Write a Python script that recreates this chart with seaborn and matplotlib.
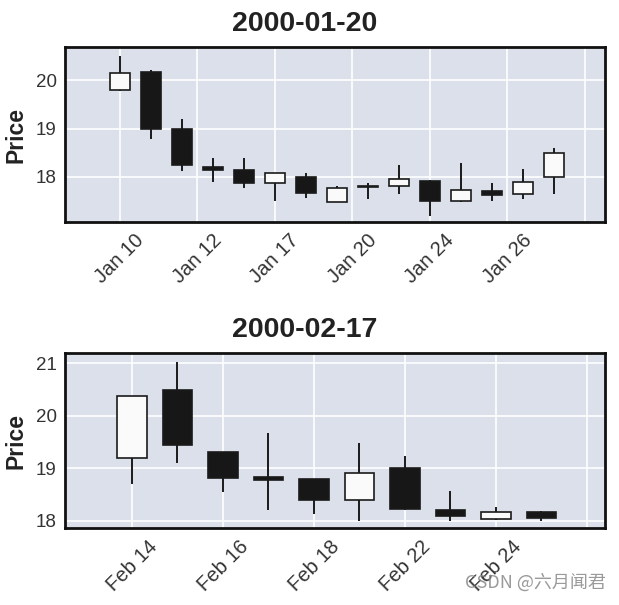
import matplotlib
matplotlib.use("Agg")
import matplotlib.pyplot as plt
import seaborn as sns
import numpy as np
import pandas as pd

# ---- data ----
jan_dates = ["Jan 10", "Jan 11", "Jan 12", "Jan 13", "Jan 14", "Jan 17", "Jan 18",
             "Jan 19", "Jan 20", "Jan 21", "Jan 24", "Jan 25", "Jan 26", "Jan 27", "Jan 28"]
jan_open  = [19.79, 20.17, 19.00, 18.20, 18.15, 17.88, 18.00, 17.49, 17.82, 17.81, 17.92, 17.50, 17.71, 17.65, 17.99]
jan_high  = [20.50, 20.21, 19.20, 18.40, 18.38, 18.09, 18.07, 17.81, 17.87, 18.24, 17.93, 18.29, 17.87, 18.17, 18.59]
jan_low   = [19.78, 18.79, 18.12, 17.89, 17.76, 17.50, 17.57, 17.49, 17.55, 17.65, 17.19, 17.49, 17.50, 17.55, 17.65]
jan_close = [20.14, 18.99, 18.24, 18.15, 17.88, 18.08, 17.67, 17.77, 17.80, 17.96, 17.50, 17.72, 17.63, 17.89, 18.50]

feb_dates = ["Feb 14", "Feb 15", "Feb 16", "Feb 17", "Feb 18",
             "Feb 21", "Feb 22", "Feb 23", "Feb 24", "Feb 25"]
feb_open  = [19.19, 20.50, 19.31, 18.83, 18.79, 18.39, 19.00, 18.20, 18.03, 18.16]
feb_high  = [20.38, 21.02, 19.31, 19.68, 18.80, 19.49, 19.23, 18.57, 18.27, 18.19]
feb_low   = [18.69, 19.09, 18.54, 18.20, 18.13, 17.99, 18.20, 18.00, 18.01, 18.00]
feb_close = [20.38, 19.44, 18.82, 18.77, 18.40, 18.90, 18.22, 18.09, 18.17, 18.06]

titles = ["2000-01-20", "2000-02-17"]
jan_ticks = [0, 2.5, 5, 7.5, 10, 12.5, 15]
feb_ticks = [0, 2, 4, 6, 8, 10]
jan_yticks = [18, 19, 20]
feb_yticks = [18, 19, 20, 21]

sns.set_theme(style="darkgrid")
plt.rcParams["font.family"] = ["Liberation Sans", "DejaVu Sans"]

fig = plt.figure(figsize=(6.19, 6.05), dpi=100)
ax1 = fig.add_axes([65/619, 1-222.3/605, 540/619, 175/605])
ax2 = fig.add_axes([65/619, 1-528.3/605, 540/619, 175/605])

BG = "#dbe0eb"


def draw(ax, dates, o, h, l, c, ticks, yticks, xlim, ylim, title):
    df = pd.DataFrame({"date": dates, "open": o, "high": h, "low": l, "close": c})
    df["idx"] = np.arange(len(df))
    df["bottom"] = df[["open", "close"]].min(axis=1)
    df["height"] = (df["close"] - df["open"]).abs().clip(lower=0.02)
    up = df["close"] >= df["open"]
    ax.set_facecolor(BG)
    ax.vlines(df["idx"], df["low"], df["high"], color="#1a1a1a", lw=1.4, zorder=2)
    ax.bar(df["idx"], df["height"], bottom=df["bottom"], width=0.65,
           color=np.where(up, "#fafafa", "#171717"), edgecolor="#1a1a1a",
           linewidth=1.2, zorder=3)
    labels = []
    for t in ticks:
        i = int(round(t))
        labels.append(df["date"][i] if 0 <= i < len(df) else "")
    ax.set_xticks(ticks)
    ax.set_xticklabels(labels, rotation=45, ha="center", fontsize=14.5, color="#333333")
    ax.set_yticks(yticks)
    ax.set_yticklabels([str(v) for v in yticks], fontsize=13.5, color="#333333")
    ax.set_xlim(*xlim)
    ax.set_ylim(*ylim)
    ax.grid(True, color="white", lw=1.2)
    ax.tick_params(length=0, pad=6)
    for s in ax.spines.values():
        s.set_visible(True)
        s.set_color("#111111")
        s.set_linewidth(2)
    ax.set_ylabel("Price", fontsize=16.5, fontweight="bold", color="#222222", labelpad=6)
    ax.set_title(title, fontsize=20.5, fontweight="bold", color="#222222", pad=12, x=0.444)


draw(ax1, jan_dates, jan_open, jan_high, jan_low, jan_close, jan_ticks, jan_yticks,
     (-1.77, 15.65), (17.06, 20.68), titles[0])
draw(ax2, feb_dates, feb_open, feb_high, feb_low, feb_close, feb_ticks, feb_yticks,
     (-1.47, 10.4), (17.855, 21.19), titles[1])

fig.text(0.978, 0.022, "CSDN @六月闻君", ha="right", va="bottom", fontsize=13,
         color="#888888", family=["Noto Sans CJK SC", "DejaVu Sans"], alpha=0.85)

fig.savefig("out.png", dpi=100)
